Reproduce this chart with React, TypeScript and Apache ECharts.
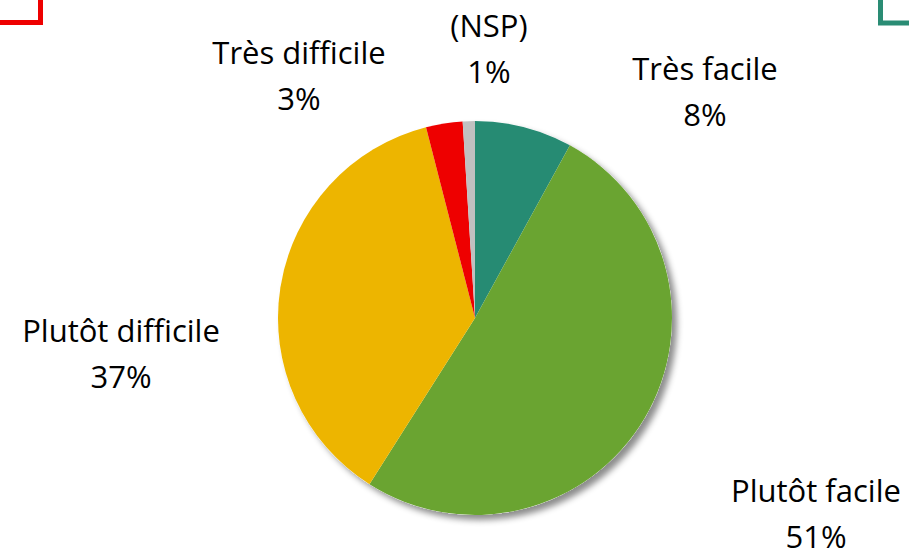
import React, { useEffect, useRef } from "react";
import * as echarts from "echarts";

const categories = ["Très facile", "Plutôt facile", "Plutôt difficile", "Très difficile", "(NSP)"];
const values = [8, 51, 37, 3, 1];
const colors = ["#268B73", "#6AA431", "#EDB500", "#EE0000", "#C0C0C0"];
// label block centres (px) for each slice's label
const labelPos: [number, number][] = [
  [705, 83.5],
  [816, 505],
  [121, 345.5],
  [299, 67.5],
  [489, 40.5],
];

export default function App() {
  const ref = useRef<HTMLDivElement>(null);
  useEffect(() => {
    if (!ref.current) return;
    const chart = echarts.init(ref.current, undefined, { renderer: "svg" });
    const center = [475, 318];
    const radius = 197;
    const font = {
      fontFamily: "'Open Sans', sans-serif",
      fontSize: 31,
      color: "#000000",
      align: "center",
    };
    chart.setOption({
      animation: false,
      backgroundColor: "#ffffff",
      graphic: [
        {
          type: "polyline",
          shape: { points: [[0, 22.5], [40.5, 22.5], [40.5, 0]] },
          style: { stroke: "#EE0000", lineWidth: 5, fill: "none" },
        },
        {
          type: "polyline",
          shape: { points: [[880.5, 0], [880.5, 23], [909, 23]] },
          style: { stroke: "#2A8C74", lineWidth: 5, fill: "none" },
        },
      ],
      series: [
        {
          type: "pie",
          silent: true,
          center,
          radius,
          z: 1,
          label: { show: false },
          labelLine: { show: false },
          data: [{ value: 1, name: "shadow" }],
          itemStyle: {
            color: "#ffffff",
            shadowColor: "rgba(0,0,0,0.45)",
            shadowBlur: 6,
            shadowOffsetX: 5,
            shadowOffsetY: 5,
          },
        },
        {
          type: "pie",
          center,
          radius,
          z: 2,
          startAngle: 90,
          clockwise: true,
          data: categories.map((c, i) => ({
            name: c,
            value: values[i],
            itemStyle: { color: colors[i] },
          })),
          itemStyle: { borderWidth: 0 },
          label: {
            show: true,
            position: "outside",
            formatter: (p: any) => `{a|${p.name}}\n{b|${p.value}%}`,
            ...font,
            rich: {
              a: { ...font, lineHeight: 61 },
              b: { ...font, lineHeight: 31 },
            },
          },
          labelLine: { show: false },
          labelLayout: (params: any) => {
            const pos = labelPos[params.dataIndex];
            return {
              x: pos[0],
              y: pos[1],
              align: "center",
              verticalAlign: "middle",
            };
          },
        },
      ],
    });
    return () => chart.dispose();
  }, []);
  return (
    <div
      ref={ref}
      style={{ position: "fixed", left: 0, top: 0, width: 909, height: 557 }}
    />
  );
}
